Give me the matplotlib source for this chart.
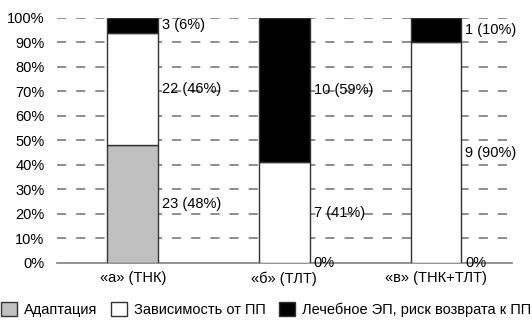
import matplotlib
matplotlib.use("Agg")
import matplotlib.pyplot as plt
import numpy as np

plt.rcParams['font.family'] = ['Liberation Sans', 'DejaVu Sans']

categories = ["«а» (ТНК)", "«б» (ТЛТ)", "«в» (ТНК+ТЛТ)"]
series_names = ["Адаптация", "Зависимость от ПП", "Лечебное ЭП, риск возврата к ПП"]
counts = {
    "Адаптация": [23, 0, 0],
    "Зависимость от ПП": [22, 7, 9],
    "Лечебное ЭП, риск возврата к ПП": [3, 10, 1],
}
percents = {
    "Адаптация": [48, 0, 0],
    "Зависимость от ПП": [46, 41, 90],
    "Лечебное ЭП, риск возврата к ПП": [6, 59, 10],
}
colors = ["#c0c0c0", "#ffffff", "#000000"]
yticks = [0, 10, 20, 30, 40, 50, 60, 70, 80, 90, 100]

fig = plt.figure(figsize=(5.32, 3.25), dpi=100)
ax = fig.add_axes([0.107, 0.191, 0.855, 0.754])

x = np.arange(len(categories))
width = 0.336
bottom = np.zeros(len(categories))
handles = []
for name, col in zip(series_names, colors):
    vals = np.array(percents[name], dtype=float)
    b = ax.bar(x, vals, width, bottom=bottom, color=col, edgecolor="#333333",
               linewidth=1.0, zorder=3, label=name)
    handles.append(b)
    for i, v in enumerate(vals):
        c = counts[name][i]
        if v == 0:
            if name == "Адаптация":
                ax.text(x[i] + width / 2 + 0.025, 0, "0%", ha="left", va="center",
                        fontsize=10.5, zorder=4)
            continue
        ax.text(x[i] + width / 2 + 0.025, bottom[i] + v / 2, f"{c} ({int(v)}%)",
                ha="left", va="center", fontsize=10.5, zorder=4)
    bottom += vals

ax.set_xlim(-0.5, 2.5)
ax.set_ylim(0, 100)
ax.set_yticks(yticks)
ax.set_yticklabels([f"{t}%" for t in yticks], fontsize=10.5)
ax.set_xticks(x)
ax.set_xticklabels(categories, fontsize=10.5)
ax.tick_params(axis='both', length=0)
ax.tick_params(axis='y', pad=9)
ax.tick_params(axis='x', pad=6)
for t in yticks[1:]:
    ax.axhline(t, color="#7a7a7a", linewidth=1.2, linestyle=(0, (5.5, 6)), zorder=1)
for s in ["left", "right", "top"]:
    ax.spines[s].set_visible(False)
ax.spines["bottom"].set_color("#808080")
ax.spines["bottom"].set_linewidth(1.2)

fig.legend(handles=handles, labels=series_names, loc="lower center",
           bbox_to_anchor=(0.5, -0.015), ncol=3, frameon=False, fontsize=10.5,
           handlelength=1.1, handleheight=1.1, handletextpad=0.5, columnspacing=0.9)

fig.savefig("out.png", dpi=100)
